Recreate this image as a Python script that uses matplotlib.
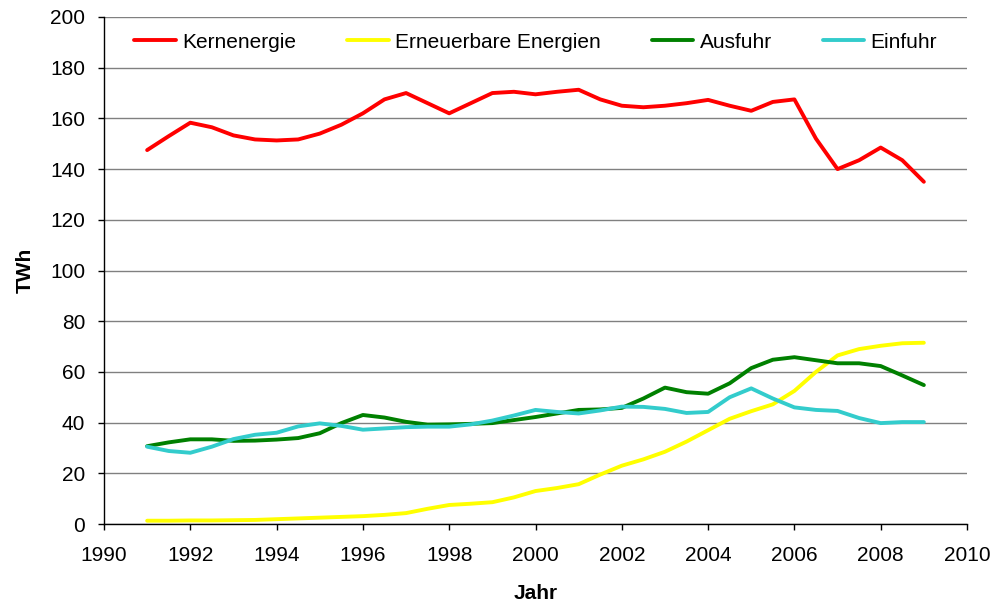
import matplotlib
matplotlib.use("Agg")
import matplotlib.pyplot as plt
import numpy as np

plt.rcParams['font.family'] = ['Liberation Sans', 'DejaVu Sans']

years = [1991 + 0.5 * i for i in range(37)]

kernenergie = [147.5, 153, 158.3, 156.5, 153.3, 151.7, 151.3, 151.7, 154, 157.5,
               162, 167.5, 170, 166, 162, 166, 170, 170.5, 169.5, 170.5,
               171.3, 167.5, 165, 164.4, 165, 166, 167.3, 165, 163, 166.5,
               167.5, 152, 140, 143.5, 148.5, 143.5, 135]

erneuerbare = [1.3, 1.3, 1.4, 1.4, 1.5, 1.6, 1.9, 2.2, 2.5, 2.8,
               3.1, 3.6, 4.3, 6, 7.5, 8, 8.6, 10.5, 13, 14.2,
               15.7, 19.5, 23, 25.5, 28.5, 32.5, 37, 41.5, 44.5, 47.2,
               52.5, 60, 66.5, 69, 70.3, 71.3, 71.5]

ausfuhr = [30.7, 32.2, 33.4, 33.4, 32.8, 32.9, 33.3, 33.9, 35.8, 39.8,
           43, 42, 40.3, 39.2, 39.3, 39.5, 39.8, 41, 42.2, 43.6,
           45, 45.2, 45.8, 49.5, 53.8, 52, 51.4, 55.5, 61.5, 64.8,
           65.8, 64.6, 63.4, 63.4, 62.3, 58.6, 54.8]

einfuhr = [30.5, 28.8, 28.1, 30.5, 33.5, 35.2, 36, 38.5, 39.7, 38.7,
           37.2, 37.7, 38.2, 38.4, 38.4, 39.3, 40.8, 42.8, 45, 44.2,
           43.6, 44.8, 46.3, 46.2, 45.4, 43.8, 44.2, 50, 53.5, 49.5,
           46, 45, 44.6, 41.8, 39.8, 40.2, 40.2]

series_names = ["Kernenergie", "Erneuerbare Energien", "Ausfuhr", "Einfuhr"]
colors = ["#FF0000", "#FFFF00", "#008000", "#33CCCC"]
x_ticks = list(range(1990, 2011, 2))
y_ticks = list(range(0, 201, 20))

fig = plt.figure(figsize=(9.98, 6.07), dpi=100)
ax = fig.add_axes([104/998, 1-524/607, (967-104)/998, (524-17)/607])

for name, vals, c in zip(series_names, [kernenergie, erneuerbare, ausfuhr, einfuhr], colors):
    ax.plot(years, vals, color=c, lw=2.8, label=name, solid_joinstyle='round',
            solid_capstyle='round', zorder=3)

ax.set_xlim(1990, 2010)
ax.set_ylim(0, 200)
ax.set_xticks(x_ticks)
ax.set_yticks(y_ticks)
ax.yaxis.grid(True, color='#808080', lw=1.0)
ax.set_axisbelow(True)
for s in ['top', 'right']:
    ax.spines[s].set_visible(False)
for s in ['left', 'bottom']:
    ax.spines[s].set_color('black')
    ax.spines[s].set_linewidth(1.0)
ax.tick_params(axis='both', direction='out', length=4.5, width=1, labelsize=15, colors='black')
ax.tick_params(axis='x', pad=11)
ax.tick_params(axis='y', pad=9)

ax.set_xlabel("Jahr", fontsize=15, fontweight='bold', labelpad=14)
ax.set_ylabel("TWh", fontsize=15, fontweight='bold', labelpad=11)

leg = ax.legend(loc='upper center', ncol=4, frameon=False, fontsize=15,
                bbox_to_anchor=(0.5, 1.0), handlelength=2.0, columnspacing=2.45,
                handletextpad=0.3, borderaxespad=0.35)

fig.savefig("out.png", dpi=100)
